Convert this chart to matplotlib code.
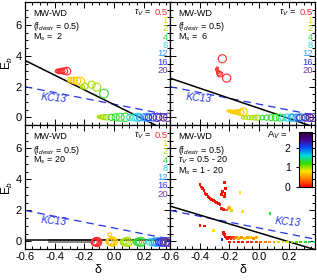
import numpy as np
import matplotlib
matplotlib.use('Agg')
import matplotlib.pyplot as plt
from matplotlib.colors import LinearSegmentedColormap
from matplotlib.ticker import MultipleLocator

plt.rcParams['font.family'] = ['Liberation Sans', 'DejaVu Sans']
plt.rcParams['mathtext.fontset'] = 'custom'
plt.rcParams['mathtext.rm'] = 'Liberation Sans'
plt.rcParams['mathtext.it'] = 'Liberation Sans:italic'

# tau_V legend values and colours
tau_labels = ['0.5', '1', '2', '4', '8', '12', '16', '20']
tau_colors = ['#ff2a2a', '#ffcc00', '#a8e000', '#33dd33', '#33dddd', '#3399ff', '#3333ee', '#6a3d9a']

# KC13 relation: Eb = 0.85 - 1.9 * delta
kc13_intercept = 0.85
kc13_slope = -1.9

# black fit lines per panel (intercept at delta=0, slope)
fit_intercepts = [0.82, 0.58, 0.08, 0.54]
fit_slopes = [-4.8, -3.28, 0.0, -2.88]

# ---- panel 1: Ms = 2 (tau index, delta, Eb, marker size)
p1_tau = [0, 0, 0, 0, 0, 0, 0,
          1, 1, 1, 1, 1,
          2, 2, 2, 2,
          3,
          2, 2, 2, 2, 2, 3, 3, 3, 3,
          4, 4, 4, 5, 5, 5, 6, 6, 6, 7, 7, 7]
p1_delta = [-0.385, -0.378, -0.37, -0.36, -0.35, -0.335, -0.318,
            -0.30, -0.285, -0.27, -0.25, -0.228,
            -0.214, -0.197, -0.152, -0.118,
            -0.069,
            -0.105, -0.095, -0.083, -0.07, -0.052, -0.02, 0.01, 0.04, 0.075,
            0.105, 0.135, 0.16, 0.17, 0.2, 0.225, 0.23, 0.26, 0.29, 0.30, 0.33, 0.36]
p1_eb = [3.0, 3.02, 2.98, 3.0, 3.02, 3.0, 3.0,
         2.45, 2.42, 2.4, 2.38, 2.35,
         1.97, 2.03, 2.12, 1.97,
         1.54,
         0.03, 0.02, 0.02, 0.01, 0.0, 0.0, 0.0, 0.0, 0.0,
         0.0, 0.0, 0.0, 0.0, 0.0, 0.0, 0.0, 0.0, 0.0, 0.0, 0.0, 0.0]
p1_size = [6, 8, 10, 12, 16, 22, 30,
           12, 16, 22, 28, 34,
           8, 18, 26, 34,
           40,
           4, 6, 8, 12, 16, 20, 26, 32, 38,
           20, 28, 36, 20, 28, 36, 20, 28, 36, 20, 28, 36]

# ---- panel 2: Ms = 6
p2_tau = [0, 0, 0, 0, 0, 0, 0,
          1, 1, 1, 1, 1, 1, 1, 1, 1, 1,
          2, 2, 2, 2, 2, 2, 3, 3, 3, 3, 3,
          4, 4, 4, 5, 5, 5, 6, 6, 6, 7, 7, 7]
p2_delta = [-0.286, -0.282, -0.276, -0.27, -0.264, -0.248, -0.219,
            -0.21, -0.2, -0.19, -0.18, -0.17, -0.16, -0.15, -0.14, -0.125, -0.107,
            -0.11, -0.09, -0.07, -0.05, -0.03, -0.01, 0.02, 0.05, 0.08, 0.11, 0.14,
            0.16, 0.19, 0.22, 0.22, 0.25, 0.28, 0.27, 0.31, 0.34, 0.31, 0.34, 0.365]
p2_eb = [3.1, 3.2, 2.94, 2.85, 2.8, 3.81, 2.55,
         0.42, 0.4, 0.38, 0.36, 0.35, 0.34, 0.34, 0.33, 0.33, 0.35,
         -0.02, -0.02, -0.02, -0.02, -0.02, -0.02, -0.02, -0.02, -0.02, -0.02, -0.02,
         -0.02, -0.02, -0.02, -0.02, -0.02, -0.02, -0.02, -0.02, -0.02, -0.02, -0.02, -0.02]
p2_size = [3, 3, 6, 10, 16, 34, 34,
           2, 3, 4, 5, 6, 8, 10, 14, 20, 32,
           4, 6, 8, 10, 12, 14, 10, 14, 18, 22, 26,
           20, 26, 32, 20, 26, 32, 20, 26, 32, 20, 26, 32]

# ---- panel 3: Ms = 20
p3_gray_delta = [-0.43, -0.415, -0.40, -0.385, -0.37, -0.355, -0.34, -0.325, -0.31, -0.295,
                 -0.28, -0.265, -0.25, -0.235, -0.22, -0.205, -0.19, -0.175, -0.16, -0.145]
p3_gray_eb = [0.03, 0.03, 0.03, 0.03, 0.03, 0.03, 0.03, 0.03, 0.03, 0.03,
              0.03, 0.03, 0.03, 0.03, 0.03, 0.03, 0.03, 0.03, 0.03, 0.03]
p3_tau = [0, 0, 0, 0, 0,
          1, 1, 1, 1, 1, 1,
          2, 2, 2, 2, 3, 3, 3, 3,
          4, 4, 4, 5, 5, 5, 6, 6, 6, 7, 7, 7]
p3_delta = [-0.135, -0.13, -0.125, -0.12, -0.115,
            -0.035, -0.025, -0.02, -0.015, -0.01, -0.03,
            0.06, 0.07, 0.08, 0.09, 0.15, 0.16, 0.17, 0.18,
            0.24, 0.26, 0.28, 0.27, 0.29, 0.31, 0.30, 0.32, 0.34, 0.33, 0.35, 0.37]
p3_eb = [-0.05, -0.04, -0.05, -0.04, -0.05,
         -0.02, -0.03, -0.02, -0.03, -0.02, 0.42,
         -0.05, -0.04, -0.05, -0.04, -0.05, -0.04, -0.05, -0.04,
         -0.05, -0.05, -0.05, -0.05, -0.05, -0.05, -0.05, -0.05, -0.05, -0.05, -0.05, -0.05]
p3_size = [20, 26, 32, 38, 44,
           20, 26, 32, 38, 44, 8,
           20, 28, 36, 44, 20, 28, 36, 44,
           24, 32, 40, 24, 32, 40, 24, 32, 40, 24, 32, 40]

# ---- panel 4: all models, coloured by A_V
p4_delta = [-0.398, -0.39, -0.38, -0.372, -0.365, -0.355, -0.345, -0.338, -0.331, -0.32,
            -0.31, -0.297, -0.285, -0.275, -0.264, -0.252, -0.241, -0.235, -0.23, -0.228,
            -0.236, -0.245, -0.255, -0.219, -0.21, -0.2, -0.185, -0.13, -0.11, 0.072,
            -0.398, -0.366, -0.309, -0.241, -0.238, -0.235, -0.23, -0.225, -0.22, -0.215,
            -0.21, -0.2, -0.19, -0.18, -0.17, -0.16, -0.15, -0.14, -0.12, -0.1,
            -0.08, -0.06, -0.04, -0.02, -0.25,
            -0.2, -0.17, -0.14, -0.11, -0.08, -0.05, -0.02, 0.01, 0.04, 0.07,
            0.1, 0.13, 0.16, 0.19, 0.22, 0.25, 0.28, 0.31, 0.34, 0.37]
p4_eb = [3.64, 3.5, 3.38, 3.25, 3.1, 3.0, 2.9, 2.82, 2.77, 2.7,
         2.62, 2.55, 2.5, 2.42, 2.35, 2.12, 2.05, 3.79, 3.1, 3.4,
         2.88, 3.2, 3.0, 2.01, 2.1, 2.2, 2.0, 3.14, 1.9, 1.8,
         1.04, 0.98, 0.71, 0.6, 0.5, 0.42, 0.35, 0.28, 0.22, 0.18,
         0.25, 0.22, 0.2, 0.22, 0.2, 0.25, 0.22, 0.2, 0.22, 0.2,
         0.25, 0.22, 0.2, 0.22, 0.1,
         -0.05, -0.05, -0.05, -0.05, -0.05, -0.05, -0.05, -0.05, -0.05, -0.05,
         -0.05, -0.05, -0.05, -0.05, -0.05, -0.05, -0.05, -0.05, -0.05, -0.05]
p4_av = [0.05, 0.05, 0.05, 0.05, 0.05, 0.05, 0.05, 0.05, 0.05, 0.05,
         0.05, 0.05, 0.05, 0.05, 0.05, 0.1, 0.1, 0.05, 0.05, 0.05,
         0.05, 0.05, 0.05, 0.3, 0.5, 0.6, 0.7, 0.8, 0.8, 1.3,
         0.05, 0.05, 0.8, 0.05, 0.05, 0.05, 0.05, 0.05, 0.05, 0.05,
         0.05, 0.05, 0.1, 0.2, 0.3, 0.4, 0.5, 0.6, 0.5, 0.7,
         0.6, 0.7, 0.5, 0.6, 2.1,
         0.05, 0.05, 0.05, 0.05, 0.1, 0.15, 0.2, 0.3, 0.4, 0.5,
         0.6, 0.7, 0.8, 0.9, 1.0, 1.1, 1.2, 1.3, 1.4, 1.5]

panel_text = [['MW-WD', '(f$_{destr}$ = 0.5)', 'M$_s$ =  2'],
              ['MW-WD', '(f$_{destr}$ = 0.5)', 'M$_s$ =  6'],
              ['MW-WD', '(f$_{destr}$ = 0.5)', 'M$_s$ = 20'],
              ['MW-WD', '(f$_{destr}$ = 0.5)', '$\\tau_V$ = 0.5 - 20', 'M$_s$ = 1 - 20']]

av_cmap = LinearSegmentedColormap.from_list(
    'av', ['#ff0000', '#ff7a00', '#ffe600', '#33dd00', '#00dddd', '#0050ff', '#4b0096', '#2a0033'])

W, H = 317, 280
fig = plt.figure(figsize=(W / 100, H / 100), dpi=100)


def px_axes(x0, y0, x1, y1):
    return fig.add_axes([x0 / W, 1 - y1 / H, (x1 - x0) / W, (y1 - y0) / H])


axes = [px_axes(25, 2, 170, 125), px_axes(170, 2, 315, 125),
        px_axes(25, 125, 170, 249), px_axes(170, 125, 315, 249)]

xline = np.array([-0.6, 0.4])
for i, ax in enumerate(axes):
    ax.set_xlim(-0.6, 0.375)
    ax.set_ylim(-0.5, 7.5)
    ax.xaxis.set_major_locator(MultipleLocator(0.2))
    ax.xaxis.set_minor_locator(MultipleLocator(0.05))
    ax.yaxis.set_major_locator(MultipleLocator(2))
    ax.yaxis.set_minor_locator(MultipleLocator(0.5))
    ax.tick_params(which='both', direction='in', top=True, right=True, labelsize=8, width=0.7)
    ax.tick_params(which='major', length=4.5, pad=2.5)
    ax.tick_params(which='minor', length=2.2)
    for s in ax.spines.values():
        s.set_linewidth(0.9)
    if i in (0, 1):
        ax.set_xticklabels([])
    else:
        ax.set_xlabel('δ', fontsize=9, labelpad=1)
        ax.set_xticks([-0.6, -0.4, -0.2, 0.0, 0.2])
        ax.set_xticklabels(['-0.6', '-0.4', '-0.2', '0.0', '0.2'])
    if i in (1, 3):
        ax.set_yticklabels([])

    ax.plot(xline, kc13_intercept + kc13_slope * xline, ls=(0, (6, 4)), color='#2233ee', lw=0.9)
    ax.plot(xline, fit_intercepts[i] + fit_slopes[i] * xline, color='black', lw=1.1)

    if i == 3:
        ax.text(0.105, 1.0, 'KC13', color='#2233ee', fontsize=7.5, style='italic', rotation=-5)
    else:
        ax.text(-0.495, 0.95 if i < 2 else 1.05, 'KC13', color='#2233ee', fontsize=7.5,
                style='italic', rotation=-5)

    for j, line in enumerate(panel_text[i]):
        ax.text(0.055, 0.94 - j * 0.09, line, transform=ax.transAxes, fontsize=6.5, va='top')

    if i < 3:
        ax.text(0.87, 0.955, '$\\tau_V$ = ', transform=ax.transAxes, fontsize=6.5, va='top', ha='right')
        for j, (lab, c) in enumerate(zip(tau_labels, tau_colors)):
            ax.text(0.985, 0.955 - j * 0.068, lab, transform=ax.transAxes, fontsize=6.8,
                    va='top', ha='right', color=c)

# y labels for left column
for yc in (63, 188):
    fig.text(7.5 / W, 1 - yc / H, 'E$_b$', fontsize=8.5, rotation=90, ha='center', va='center')

# panels 1-3: open circles coloured by tau_V
for ax, taus, ds, es, ss in [(axes[0], p1_tau, p1_delta, p1_eb, p1_size),
                              (axes[1], p2_tau, p2_delta, p2_eb, p2_size),
                              (axes[2], p3_tau, p3_delta, p3_eb, p3_size)]:
    cols = [tau_colors[t] for t in taus]
    ax.scatter(ds, es, s=ss, facecolors='none', edgecolors=cols, linewidths=0.8, zorder=3)

axes[2].scatter(p3_gray_delta, p3_gray_eb, s=8, color='#8a8a8a', marker='s', lw=0, zorder=1)

# panel 4: points coloured by A_V
sc = axes[3].scatter(p4_delta, p4_eb, c=p4_av, cmap=av_cmap, vmin=0, vmax=2.8, s=4,
                     marker='s', lw=0, zorder=3)

cax = px_axes(299, 132, 312, 187)
cb = fig.colorbar(sc, cax=cax, ticks=[0, 1, 2])
cax.yaxis.set_ticks_position('left')
cax.yaxis.set_label_position('left')
cax.tick_params(labelsize=7.5, length=2.5, direction='out', width=0.7)
cb.outline.set_linewidth(0.8)
fig.text(288 / W, 1 - 135 / H, 'A$_V$ =', fontsize=6.8, ha='right', va='center')

fig.savefig('out.png', dpi=100)
